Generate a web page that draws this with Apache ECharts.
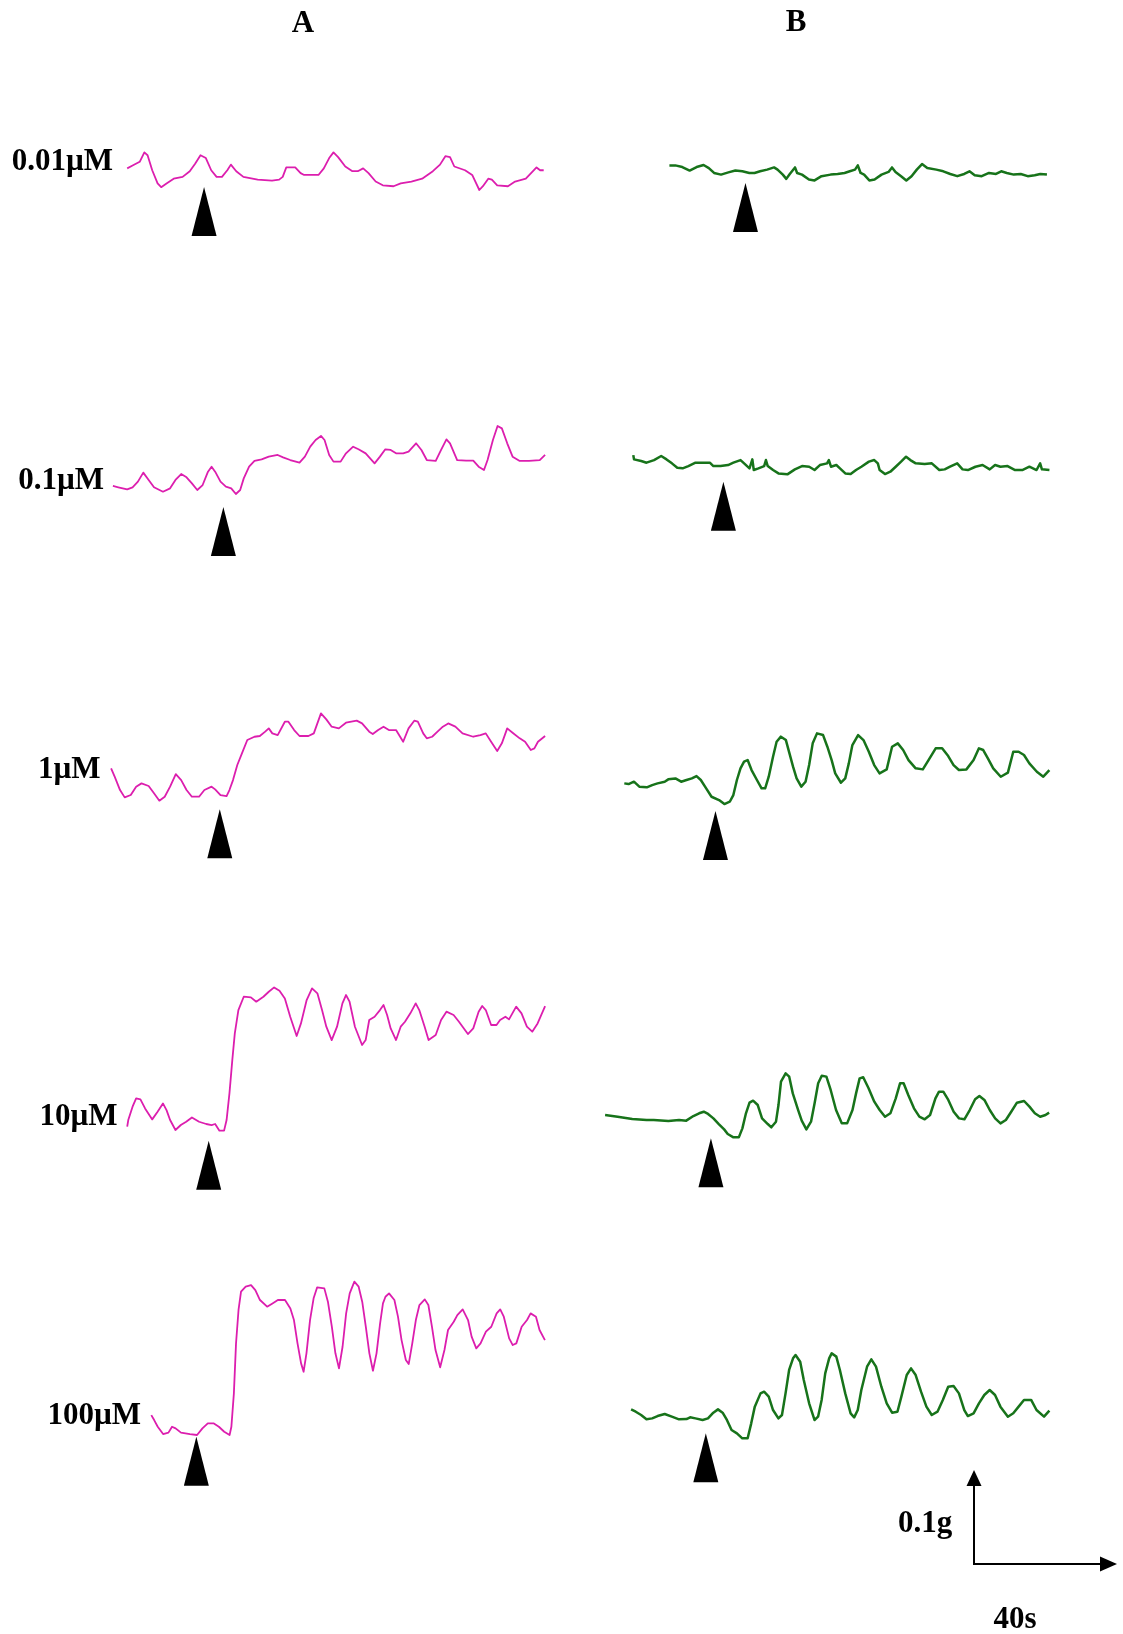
<!DOCTYPE html>
<html>
<head>
<meta charset="utf-8">
<script src="https://cdn.jsdelivr.net/npm/echarts@6/dist/echarts.min.js"></script>
<style>
  html, body { margin: 0; padding: 0; background: #fff; }
  #chart { width: 1123px; height: 1634px; }
</style>
</head>
<body>
<div id="chart"></div>
<script>
// Isometric tension recordings. Each trace: [time (s), tension (mg)],
// tension measured from an arbitrary reference level of that trace.
const columnTitles = ['A', 'B'];
const concentrations = ['0.01µM', '0.1µM', '1µM', '10µM', '100µM'];

// Drug addition times (s from start of each trace)
const additionTimesA = [21.5, 30.9, 30.4, 22.8, 12.6];
const additionTimesB = [21.8, 25.2, 25.5, 29.6, 20.9];

// Calibration bar
const scaleBarTime = 40;    // s
const scaleBarForce = 100;  // mg (0.1 g)
const scaleBarLabels = ['0.1g', '40s'];

// ---- Column A ----
const traceA_001 = [[0,23],[1.5,26],[3.5,30],[4.8,40],[5.7,37],[7,21],[8.5,7],[9.5,3],[11,7],[13,12],[15.5,14],[17.5,20],[19,28],[20.5,37],[22,34],[23.5,21],[25,14],[26.5,14],[28,21],[29,27],[30.5,20],[32.5,14],[36.5,11],[40.5,10],[42.5,11],[43.5,14],[44.5,24],[47,24],[48.5,18],[49.5,16],[53.5,16],[55,23],[56.5,34],[57.7,40],[59,35],[61,25],[63,20],[64.5,20],[66,23],[67.5,18],[69.5,9],[71.5,5],[74.5,4],[76.5,7],[79.5,9],[82.5,12],[85.5,20],[87.5,27],[89,36],[90.3,35],[91.5,25],[94.5,21],[96.5,16],[98.5,0],[99.5,4],[101,12],[102,11],[103.5,5],[106.5,4],[108.5,9],[111.5,12],[113.5,20],[114.5,24],[115.5,21],[116.5,21]];

const traceA_01 = [[0,9.6],[1.5,8.2],[4,6],[5.5,8.2],[7,14.2],[8.5,23.8],[10,16],[11.5,8.2],[14,3.5],[16,7.1],[17.5,16],[19.1,22.3],[20.6,18.8],[22.1,12.4],[23.6,5.3],[25.1,10.6],[26.6,24.8],[27.6,30.1],[28.6,24.8],[30.1,14.2],[31.6,8.9],[33.1,7.1],[34.4,1.1],[35.6,5.3],[36.6,17.7],[38.1,30.1],[39.6,36.2],[41.6,37.9],[43.6,40.8],[46.1,42.6],[47.6,40.1],[49.6,37.2],[52.2,34.4],[53.7,40.8],[55.2,51.4],[56.7,58.5],[58.2,62.8],[59.2,58.5],[60.5,42.6],[61.7,35.5],[63.7,35.5],[65.2,44.3],[67.2,51.4],[68.7,48.6],[70.7,44.3],[73.2,33.7],[74.7,40.8],[76.2,48.6],[77.7,47.9],[79.2,44.3],[81.2,44.3],[82.7,46.1],[84.8,55],[86.3,47.9],[87.8,37.2],[90.3,36.2],[91.8,47.9],[93.3,59.2],[94.3,55],[96.3,37.2],[98.8,36.5],[100.8,36.5],[102.3,30.1],[103.8,26.6],[104.8,37.2],[106.3,58.5],[107.6,73.4],[108.8,70.9],[110.3,55],[111.8,40.8],[113.8,36.2],[116.4,36.2],[119.4,37.2],[120.9,42.6]];

const traceA_1 = [[0,35.5],[1,26.6],[2.5,12.4],[3.8,4.6],[5.5,7.1],[7,16],[8.5,19.5],[10.5,16.7],[12,8.9],[13.5,1.1],[15,5.3],[16.5,16],[18.1,29.4],[19.6,23],[21.1,12.4],[22.6,5.3],[24.6,5.3],[26.1,12.4],[28.1,16],[29.1,13.1],[30.6,7.1],[32.3,6],[33.1,12.4],[34.1,23],[35.3,39],[36.6,51.4],[38.1,65.6],[40.1,69.1],[41.6,69.9],[43.1,74.5],[44.1,78],[45.1,72.7],[46.6,70.9],[48.6,85.1],[49.6,85.1],[51.2,76.2],[52.7,69.9],[55.2,69.9],[56.7,72.7],[57.7,83.3],[58.7,94],[60.2,87.6],[61.7,79.8],[63.7,78],[65.7,84],[68.7,86.2],[70.2,83.3],[72.2,74.5],[73.2,72],[74.7,76.2],[76.2,79.8],[77.7,76.2],[79.7,76.2],[81.7,63.8],[83.2,78],[84.8,86.2],[85.8,85.1],[87.3,72.7],[88.3,67.4],[89.8,69.1],[91.3,74.5],[92.8,79.8],[94.3,83.3],[96.3,79.8],[98.3,72.7],[101.3,69.1],[103.3,70.9],[104.8,72.7],[106.3,63.8],[108,53.9],[109.3,62.1],[110.8,78],[112.3,73.4],[114.3,67.4],[115.8,63.8],[117.4,55],[118.4,56.7],[119.4,63.8],[121.4,69.9]];

const traceA_10 = [[0,5.3],[0.3,12.4],[1.5,26.6],[2.5,35.5],[3.7,34.4],[5,24.8],[7,13.1],[8.5,21.3],[10,30.1],[11,23],[12,12.4],[13.5,1.8],[15,7.1],[16.5,10.6],[18.1,15.2],[20.1,10.6],[22.1,8.2],[23.6,7.1],[24.6,8.2],[25.8,1.1],[27.1,1.1],[27.8,12.4],[28.6,40.8],[29.4,76.2],[30.1,104.6],[31.1,129.4],[32.6,143.6],[34.6,142.9],[36.1,138.3],[38.1,143.6],[39.6,148.9],[41.1,153.5],[42.6,150],[44.1,141.8],[45.6,122.3],[47.4,101.8],[48.6,115.2],[50.2,140.1],[51.7,152.5],[53.2,147.2],[54.5,129.4],[55.7,111.7],[57.2,97.5],[58.7,111.7],[60.2,136.5],[61.2,145.4],[62.2,138.3],[63.7,111.7],[65.7,92.2],[66.7,97.5],[67.7,118.8],[69.2,122.3],[70.7,129.4],[71.7,134.8],[72.7,124.1],[73.7,109.9],[75.2,97.5],[76.5,111.7],[77.7,117],[79.2,125.9],[80.7,136.5],[81.7,129.4],[83.2,111.7],[84.3,97.5],[86.3,102.8],[87.8,118.8],[89.3,127.7],[91.3,124.1],[92.8,117],[95.3,103.9],[96.8,109.9],[98.3,127.7],[99.3,133.7],[100.3,129.4],[101.8,113.5],[103.3,113.5],[104.3,118.8],[105.8,122.3],[106.8,119.5],[108.8,133],[110.3,125.9],[111.8,111.7],[113.3,106.4],[114.8,115.2],[115.8,124.1],[116.9,133.7]];

const traceA_100 = [[0,23],[0.8,17.7],[1.8,10.6],[3.3,2.8],[4.8,4.3],[5.8,10.6],[6.8,8.9],[8.3,4.3],[10.8,2.8],[12.8,1.8],[14.3,8.9],[15.8,14.2],[17.4,14.2],[18.9,10.6],[20.4,5.3],[21.9,1.8],[22.4,10.6],[23.1,46.1],[23.7,99.3],[24.4,134.8],[25.1,154.3],[26.4,159.6],[27.9,161.3],[29.1,156],[30.4,145.4],[32.4,138.3],[33.9,141.8],[35.4,145.4],[37.4,145.4],[38.9,136.5],[39.9,124.1],[40.9,99.3],[41.9,78],[42.6,69.1],[43.4,88.7],[44.4,124.1],[45.4,147.2],[46.4,158.9],[48.4,157.8],[49.4,143.6],[50.5,117],[51.5,88.7],[52.5,72.7],[53.5,95.7],[54.5,131.2],[55.5,152.5],[56.8,164.9],[58,159.6],[59,143.6],[60,117],[61,88.7],[62,70.2],[63,88.7],[64,120.6],[64.8,141.8],[65.5,148.9],[66.5,152.5],[68,145.4],[69,127.7],[70,102.8],[71.2,81.6],[72,77.3],[73,99.3],[74,124.1],[75,140.1],[76.5,146.1],[77.5,140.1],[78.5,117],[79.5,92.2],[80.8,73.8],[82,92.2],[83,113.5],[84.6,122.3],[85.6,129.4],[87.1,135.5],[88.6,124.1],[89.6,106.4],[90.9,94],[92.1,99.3],[93.6,111.7],[95.1,117],[96.6,131.2],[97.6,135.5],[98.6,127.7],[100.1,104.6],[101.1,97.5],[102.1,99.3],[103.6,117],[105.1,124.1],[106.1,131.2],[107.6,127.7],[108.6,113.5],[110.1,102.8]];

// ---- Column B ----
const traceB_001 = [[0,20.6],[1.7,20.6],[3.7,18.8],[5.8,15],[7.8,18.8],[9.8,21],[11.3,17.7],[12.8,12.4],[14.8,10.6],[16.9,13],[18.9,15],[20.9,14.2],[22.9,12.4],[24.4,12.4],[26,14.2],[28,16],[30,18.4],[31,16],[32.5,10.6],[33.5,6],[34.5,11.3],[36,18.4],[36.6,12.4],[38,10.6],[40,5.3],[41.6,4.3],[43.6,8.9],[46.2,10.6],[48.2,11.3],[50.2,12.4],[51.7,14.2],[53.2,16],[54,20.6],[54.8,12.4],[55.8,10.6],[57.3,4.3],[58.8,5.3],[60.8,10.6],[62.8,13.5],[63.8,18.4],[64.8,13.5],[66.4,8.9],[67.9,4.3],[69.4,8.9],[70.9,16],[72.4,22],[73.9,17.7],[76.5,16],[78.5,14.2],[80.5,11.3],[82.5,8.9],[84.5,11.3],[86,14.2],[87.5,9.9],[89.5,8.9],[91.6,12.4],[93.6,11.3],[95.1,14.2],[96.7,12.4],[98.7,10.6],[100.7,11.3],[102.7,8.9],[104.7,9.9],[106.3,11.3],[108.2,10.6]];

const traceB_01 = [[0,23],[0.2,18.4],[2.2,16.7],[3.7,14.9],[5.8,17.7],[7.8,22],[9.3,18.4],[10.8,14.2],[12.3,9.6],[13.8,8.9],[15.4,11.3],[17.4,14.9],[21.4,14.9],[22.4,11.3],[24.4,11.3],[26.5,12.4],[28,14.9],[30,17.7],[31,14.2],[32.5,8.9],[33.3,18.4],[33.7,7.1],[35,8.9],[36.6,11.3],[37.1,17.7],[37.6,11.3],[39.1,7.1],[40.6,3.5],[43.1,2.5],[45.2,7.8],[47.2,11.3],[49.2,10.6],[50.7,7.1],[52.2,12.4],[54.2,14.2],[54.7,17.7],[55.3,10.6],[56.8,12.4],[57.8,8.9],[59.3,3.5],[60.8,2.8],[62.3,7.1],[63.8,10.6],[65.9,16],[67.4,17.7],[68.4,14.2],[68.9,7.1],[70.4,2.8],[71.9,5.3],[73.4,10.6],[74.9,16],[76.3,21.3],[77.5,17.7],[79,14.2],[81.5,13.5],[83.5,14.2],[85.6,7.1],[87.1,7.8],[88.6,10.6],[90.6,14.2],[92.1,7.8],[93.6,7.1],[95.7,10.6],[97.7,12.4],[99.7,7.8],[101.2,12.4],[102.7,10.6],[104.7,11.3],[106.8,7.1],[108.8,7.1],[110.8,10.6],[112.8,7.1],[113.8,14.2],[114.3,7.8],[116.4,7.1]];

const traceB_1 = [[0,24.8],[1.2,24.1],[2.7,26.6],[4.2,21.3],[6.3,20.6],[7.8,23],[9.3,24.8],[11.3,26.6],[12.3,29.1],[14.3,30.1],[15.9,26.6],[17.4,28.4],[18.9,30.1],[20.2,32.6],[21.4,28.4],[22.9,19.5],[24.4,10.6],[26.5,7.1],[28,2.8],[29.5,5.3],[30.5,12.4],[31.5,28.4],[32.5,40.8],[33.5,47.9],[34.5,49.6],[35.6,39],[37.1,28.4],[38.4,19.5],[39.4,19.5],[40.4,31.9],[41.6,53.2],[42.6,69.1],[43.8,74.5],[45.2,70.9],[46.2,56.7],[47.2,42.6],[48.2,30.1],[49.5,21.3],[50.7,26.6],[51.7,44.3],[52.7,67.4],[53.9,78],[55.6,76.2],[56.8,63.8],[58,49.6],[59,35.5],[60.6,25.5],[61.8,30.1],[62.8,46.1],[63.8,65.6],[65.4,76.2],[66.9,70.9],[68.4,58.5],[69.9,44.3],[71.4,35.5],[73.4,39.7],[74.9,63.8],[76.5,67.4],[78,60.3],[79.5,49.6],[81.5,40.8],[83.5,39.7],[85.1,49.6],[87.1,62.1],[88.9,62.1],[90.6,53.9],[92.1,44.3],[93.6,39],[95.7,39.7],[97.7,49.6],[99.2,62.1],[100.4,60.3],[101.7,51.4],[103.2,40.8],[105.3,31.9],[107.3,36.2],[108.8,58.5],[110.3,58.5],[111.8,55],[113.3,46.1],[115.4,37.2],[117.2,31.9],[118.9,39]];

const traceB_10 = [[0,26.6],[1.5,25.9],[3.5,24.8],[7.6,22.3],[11.6,21.3],[13.6,21.3],[17.7,20.2],[20.7,21.3],[22.7,20.6],[24.7,25.5],[26.3,28.4],[27.6,30.1],[28.8,27.7],[30.3,23],[31.8,17],[33.3,11.3],[34.3,6.4],[35.9,2.8],[37.4,2.8],[38.4,12.4],[39.4,28.4],[40.4,39.7],[41.4,41.8],[42.7,37.2],[43.9,23],[45.5,17],[46.5,13.5],[47.8,19.5],[48.5,37.2],[49.2,62.1],[50.5,70.9],[51.5,67.4],[52.5,49.6],[54,31.9],[55,20.6],[56.3,11.3],[57.6,19.5],[58.6,39],[59.6,60.3],[60.6,68.4],[61.9,67.4],[63.1,53.2],[64.6,31.9],[66.2,17.7],[67.7,17.7],[69.2,31.9],[70.2,49.6],[71.2,65.6],[72.2,66.7],[73.7,55],[75.3,40.8],[76.8,31.9],[78.3,24.8],[79.8,28.4],[81.3,44.3],[82.5,60.3],[83.5,60.3],[84.8,47.9],[86.4,33.7],[87.9,24.8],[89.4,22],[90.9,26.6],[92.4,44.3],[93.4,51.4],[94.6,51.4],[96,42.6],[97.5,30.1],[99,23],[100.5,22],[102,31.9],[103.5,43.3],[104.7,46.8],[106.1,42.6],[107.6,31.9],[109.1,23],[110.6,17.7],[112.1,21.3],[113.6,30.1],[115.2,39.7],[117.2,41.5],[118.7,35.5],[120.2,28.4],[121.7,24.8],[123.2,26.6],[124.2,29.1]];

const traceB_100 = [[0,32.6],[1.3,30.1],[2.8,26.6],[4.3,22],[5.9,23],[7.4,25.5],[9.4,27.7],[11.4,24.8],[13.4,22],[15.5,22.3],[16.5,24.1],[18,23],[20,21.3],[21.5,23],[23,29.1],[24.3,32.6],[25.6,29.1],[26.8,21.3],[28.1,10.6],[29.6,7.1],[31.1,1.8],[32.6,1.8],[33.6,17.7],[34.6,35.5],[36.2,49.6],[37.2,51.4],[38.5,46.1],[39.7,31.9],[41.2,23],[42.2,26.6],[43.2,49.6],[44.2,74.5],[45.3,86.9],[46,90.4],[47.3,83.3],[48.3,63.8],[49.8,39],[51.3,21.3],[52.3,24.8],[53.3,42.6],[54.3,70.9],[55.4,86.9],[56.1,92.2],[57.4,88.7],[58.4,74.5],[59.9,49.6],[61.4,28.4],[62.4,24.1],[63.4,31.9],[64.4,53.2],[66,78],[67.2,85.8],[68.5,78],[70,56.7],[71.5,39],[73,29.1],[74.5,30.1],[75.6,46.1],[77.1,69.1],[78.3,76.2],[79.6,69.1],[81.1,51.4],[82.6,35.5],[84.1,26.6],[85.7,30.1],[87.2,42.6],[88.7,56.7],[90.2,57.4],[91.7,49.6],[93.2,31.9],[94.2,25.5],[95.8,28.4],[97.3,39],[98.8,47.9],[100.3,53.2],[101.8,47.9],[103.3,35.5],[105.4,24.8],[106.9,28.4],[108.4,35.5],[109.9,42.6],[111.9,42.6],[113.4,31.9],[115.5,24.8],[117,31.2]];

const tracesA = [traceA_001, traceA_01, traceA_1, traceA_10, traceA_100];
const tracesB = [traceB_001, traceB_01, traceB_1, traceB_10, traceB_100];

// ---- Layout ----
const PX_PER_S = 143 / 40;    // horizontal scale (px per second)
const PX_PER_MG = 94 / 100;   // vertical scale (px per mg)
const T_MAX = 130, V_MIN = -60, V_MAX = 200;
const COLOR_A = '#dc1eae';
const COLOR_B = '#17731a';
const FONT = "bold 31px 'Liberation Serif', 'Times New Roman', serif";

// left edge (px), zero-tension level (px), arrowhead tip level (mg)
const layoutA = [
  { left: 127.2, zero: 190.0, tip: 3.2 },
  { left: 112.9, zero: 495.0, tip: -12.8 },
  { left: 111.1, zero: 801.7, tip: -8.1 },
  { left: 127.2, zero: 1131.7, tip: -9.6 },
  { left: 151.3, zero: 1436.7, tip: 0 }
];
const layoutB = [
  { left: 669.4, zero: 183.3, tip: 1.4 },
  { left: 633.3, zero: 476.7, tip: -5.3 },
  { left: 624.3, zero: 806.7, tip: -4.6 },
  { left: 605.1, zero: 1140.0, tip: 1.8 },
  { left: 631.1, zero: 1440.0, tip: 7.1 }
];
// concentration labels: right edge x, centre y
const labelPos = [[113, 162], [104, 481], [100.5, 770], [117.5, 1117], [141, 1416]];

const grids = [], xAxes = [], yAxes = [], series = [];

function addTrace(data, addAt, lay, color, width) {
  const i = grids.length;
  grids.push({
    left: lay.left, top: lay.zero - V_MAX * PX_PER_MG,
    width: T_MAX * PX_PER_S, height: (V_MAX - V_MIN) * PX_PER_MG
  });
  xAxes.push({ gridIndex: i, type: 'value', min: 0, max: T_MAX, show: false });
  yAxes.push({ gridIndex: i, type: 'value', min: V_MIN, max: V_MAX, show: false });
  series.push({
    type: 'line', xAxisIndex: i, yAxisIndex: i, data: data,
    symbol: 'none', smooth: false, clip: false, silent: true,
    lineStyle: { color: color, width: width, join: 'round' }
  });
  series.push({
    type: 'scatter', xAxisIndex: i, yAxisIndex: i, data: [[addAt, lay.tip]],
    symbol: 'triangle', symbolSize: [25, 49], symbolOffset: [0, '50%'],
    itemStyle: { color: '#000', opacity: 1 }, silent: true, clip: false
  });
}

tracesA.forEach((d, k) => addTrace(d, additionTimesA[k], layoutA[k], COLOR_A, 1.8));
tracesB.forEach((d, k) => addTrace(d, additionTimesB[k], layoutB[k], COLOR_B, 2.5));

// calibration bar, origin at the corner
(function () {
  const i = grids.length;
  const corner = { x: 974, y: 1564 };
  grids.push({
    left: corner.x, top: corner.y - 120 * PX_PER_MG,
    width: scaleBarTime * PX_PER_S, height: 120 * PX_PER_MG
  });
  xAxes.push({ gridIndex: i, type: 'value', min: 0, max: scaleBarTime, show: false });
  yAxes.push({ gridIndex: i, type: 'value', min: 0, max: 120, show: false });
  series.push({
    type: 'line', xAxisIndex: i, yAxisIndex: i,
    data: [[0, scaleBarForce - 14], [0, 0], [scaleBarTime - 4.5, 0]],
    symbol: 'none', clip: false, silent: true,
    lineStyle: { color: '#000', width: 2, join: 'miter' }
  });
  series.push({
    type: 'scatter', xAxisIndex: i, yAxisIndex: i, data: [[0, scaleBarForce]],
    symbol: 'path://M8,0 L16,16 L0,16 Z', symbolSize: [15, 16], symbolOffset: [0, 8],
    itemStyle: { color: '#000', opacity: 1 }, silent: true, clip: false
  });
  series.push({
    type: 'scatter', xAxisIndex: i, yAxisIndex: i, data: [[scaleBarTime, 0]],
    symbol: 'path://M0,0 L16,8 L0,16 Z', symbolSize: [17, 15], symbolOffset: [-8.5, 0],
    itemStyle: { color: '#000', opacity: 1 }, silent: true, clip: false
  });
})();

function text(str, x, y, align) {
  return {
    type: 'text', x: x, y: y, silent: true,
    style: {
      text: str, font: FONT, fill: '#000',
      textAlign: align, textVerticalAlign: 'middle',
      align: align, verticalAlign: 'middle'
    }
  };
}

const graphics = [
  text(columnTitles[0], 303, 24, 'center'),
  text(columnTitles[1], 796, 23, 'center'),
  text(scaleBarLabels[0], 925, 1524, 'center'),
  text(scaleBarLabels[1], 1015, 1620, 'center')
];
concentrations.forEach((c, k) => graphics.push(text(c, labelPos[k][0], labelPos[k][1], 'right')));

const chart = echarts.init(document.getElementById('chart'), null, { renderer: 'canvas' });
chart.setOption({
  animation: false,
  backgroundColor: '#fff',
  grid: grids,
  xAxis: xAxes,
  yAxis: yAxes,
  series: series,
  graphic: graphics
});
</script>
</body>
</html>
